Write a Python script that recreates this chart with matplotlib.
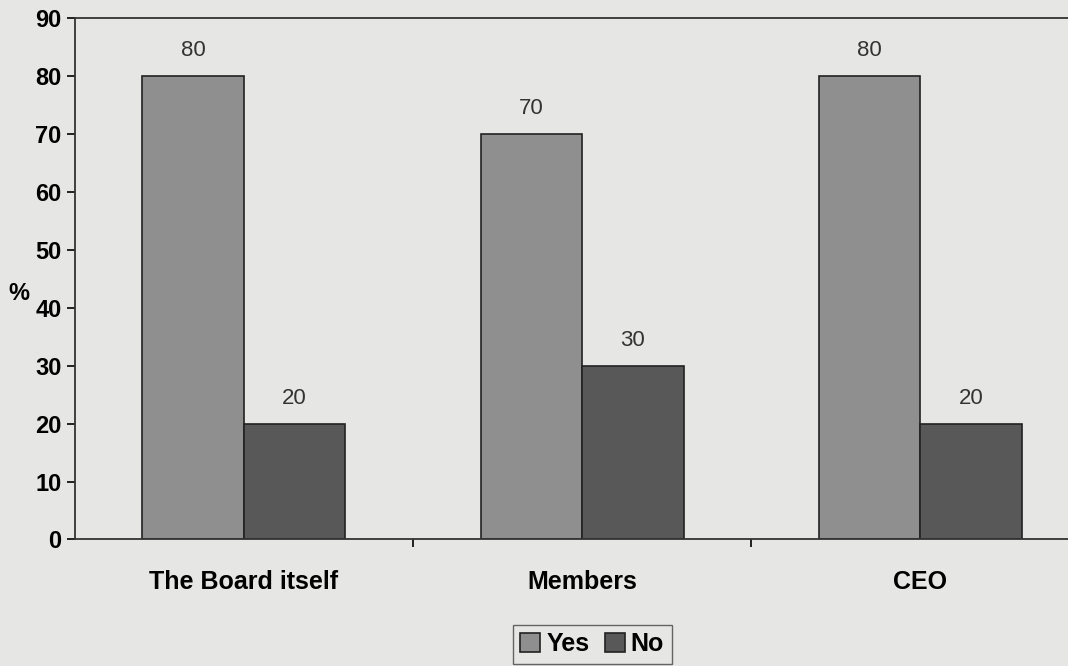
import numpy as np
import matplotlib.pyplot as plt

categories = ["The Board itself", "Members", "CEO"]
yes_values = [80, 70, 80]
no_values = [20, 30, 20]

plt.rcParams["font.family"] = ["Liberation Sans", "DejaVu Sans"]

BG = "#e6e6e4"

fig = plt.figure(figsize=(10.68, 6.66), dpi=100)
fig.patch.set_facecolor(BG)
ax = fig.add_axes([0.070, 0.190, 0.95, 0.783])
ax.set_facecolor(BG)

x = np.arange(len(categories))
width = 0.30

bars_yes = ax.bar(x - width / 2, yes_values, width, color="#8f8f8f",
                  edgecolor="#222222", linewidth=1.2, label="Yes")
bars_no = ax.bar(x + width / 2, no_values, width, color="#585858",
                 edgecolor="#222222", linewidth=1.2, label="No")

for bars in (bars_yes, bars_no):
    for b in bars:
        ax.text(b.get_x() + b.get_width() / 2, b.get_height() + 2.5,
                f"{b.get_height():.0f}", ha="center", va="bottom",
                fontsize=16, color="#333333")

ax.set_xlim(-0.5, len(categories) - 0.5)
ax.set_ylim(0, 90)
ax.set_yticks(range(0, 91, 10))
ax.tick_params(axis="y", labelsize=17, length=6, width=1.2, direction="out")
for lbl in ax.get_yticklabels():
    lbl.set_fontweight("bold")

# category labels, with divider ticks between groups
ax.set_xticks(x)
ax.set_xticklabels(categories, fontsize=18, fontweight="bold")
ax.tick_params(axis="x", length=0, pad=22)
ax.set_xticks(np.arange(0.5, len(categories) - 0.5, 1), minor=True)
ax.tick_params(axis="x", which="minor", length=6, width=1.2, direction="out")

ax.set_ylabel("%", rotation=0, fontsize=17, fontweight="bold")
ax.yaxis.set_label_coords(-0.055, 0.45)

for side in ["top", "left", "bottom"]:
    ax.spines[side].set_linewidth(1.3)
    ax.spines[side].set_color("#333333")
ax.spines["right"].set_visible(False)

leg = ax.legend(loc="upper center", bbox_to_anchor=(0.51, -0.14), ncol=2,
                frameon=True, fancybox=False, edgecolor="#444444",
                facecolor=BG, prop={"size": 18, "weight": "bold"},
                handlelength=0.8, handleheight=0.8, handletextpad=0.25,
                columnspacing=0.6, borderpad=0.3)

fig.savefig("out.png", dpi=100, facecolor=BG)
